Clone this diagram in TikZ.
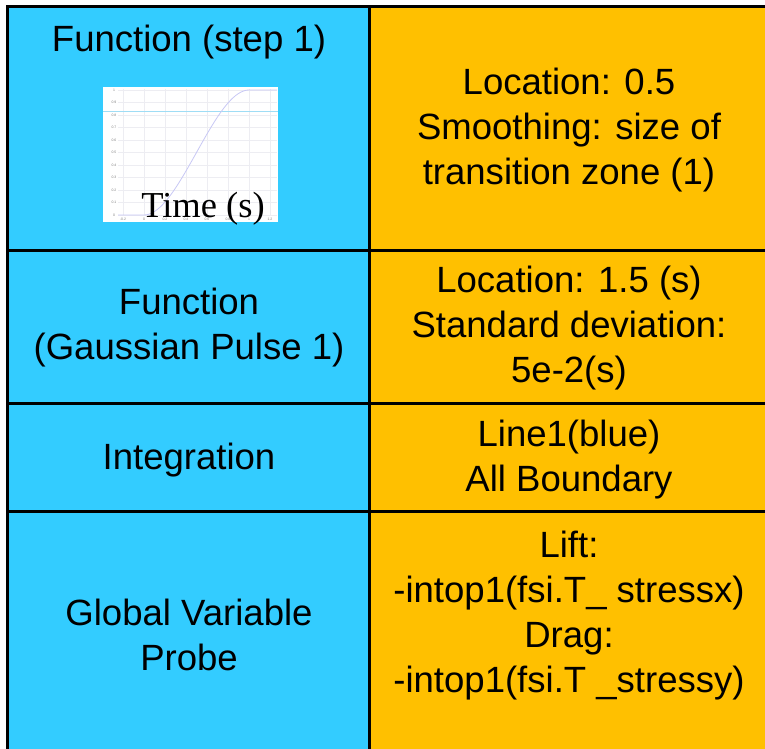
\documentclass[tikz,border=0pt]{standalone}
\usepackage{fontspec}
\setmainfont{Liberation Sans}
\newfontfamily\timesfont{Liberation Serif}
\usetikzlibrary{positioning}
\definecolor{cellblue}{HTML}{33CCFF}
\definecolor{cellorange}{HTML}{FFC000}
\definecolor{gridgray}{HTML}{EDEDF2}
\definecolor{curvelav}{HTML}{C8C8F5}
\definecolor{refline}{HTML}{9FDDF5}
\tikzstyle{txt}=[font=\fontsize{27.4}{33.75}\selectfont, align=center, inner sep=0pt]
\tikzstyle{rule}=[line width=2.25pt, black]
\tikzstyle{tick}=[font=\fontsize{2.6}{3}\selectfont, text=gray, inner sep=0pt]

\begin{document}
\begin{tikzpicture}[x=0.75pt, y=-0.75pt]
				\useasboundingbox (0, 0) rectangle (765, 749);
				\fill[white] (0, 0) rectangle (765, 749);
				% cells
				\fill[cellblue] (7.5, 6.5) rectangle (369.5, 749);
				\fill[cellorange] (369.5, 6.5) rectangle (765, 749);
				% small step plot
				\fill[white] (103, 87) rectangle (278, 222);
				\foreach \k in {0,...,10}
					\draw[gridgray, line width=0.3pt] (118, {215-12.5*\k}) -- (277, {215-12.5*\k});
				\foreach \k in {0,...,7}
					\draw[gridgray, line width=0.3pt] ({123+21*\k}, 89) -- ({123+21*\k}, 215);
				\foreach \v/\l in {0/0, 1/0.1, 2/0.2, 3/0.3, 4/0.4, 5/0.5, 6/0.6, 7/0.7, 8/0.8, 9/0.9, 10/1}
					\node[tick] (yl\v) at (114, {215-12.5*\v}) {\l};
				\foreach \k/\l in {0/-0.2, 1/0, 2/0.2, 3/0.4, 4/0.6, 5/0.8, 6/1, 7/1.2}
					\node[tick] (xl\k) at ({123+21*\k}, 219) {\l};
				\draw[refline, line width=0.8pt] (103, 111.5) -- (278, 111.5);
				\draw[curvelav, line width=0.6pt] (118, 215) -- (144, 215)
					-- plot[domain=0:1, samples=40, smooth] ({144+105*\x}, {215-125*(3*\x*\x-2*\x*\x*\x)})
					-- (277, 90);
				\node[font=\timesfont\fontsize{27.4}{30}\selectfont, inner sep=0pt, anchor=base] (time) at (203, 217) {Time (s)};
				% texts
				\node[txt] (f1) at (189, 42) {Function (step 1)};
				\node[txt] (f1r) at (569, 130) {Location: 0.5\\Smoothing: size of\\transition zone (1)};
				\node[txt] (f2) at (189, 327.5) {Function\\(Gaussian Pulse 1)};
				\node[txt] (f2r) at (569, 328) {Location: 1.5 (s)\\Standard deviation:\\5e-2(s)};
				\node[txt] (int) at (189, 460) {Integration};
				\node[txt] (intr) at (569, 459.5) {Line1(blue)\\All Boundary};
				\node[txt] (gvp) at (189, 634.5) {Global Variable\\Probe};
				\node[txt] (gvpr) at (569, 615.5) {Lift:\\-intop1(fsi.T\_ stressx)\\Drag:\\-intop1(fsi.T \_stressy)};
				% rules
				\draw[rule] (6.4, 6.5) -- (765, 6.5);
				\draw[rule] (7.5, 5.4) -- (7.5, 749);
				\draw[rule] (369.5, 5.4) -- (369.5, 749);
				\foreach \r in {250.5, 403.5, 511.5}
					\draw[rule] (7.5, \r) -- (765, \r);
			\end{tikzpicture}
\end{document}
